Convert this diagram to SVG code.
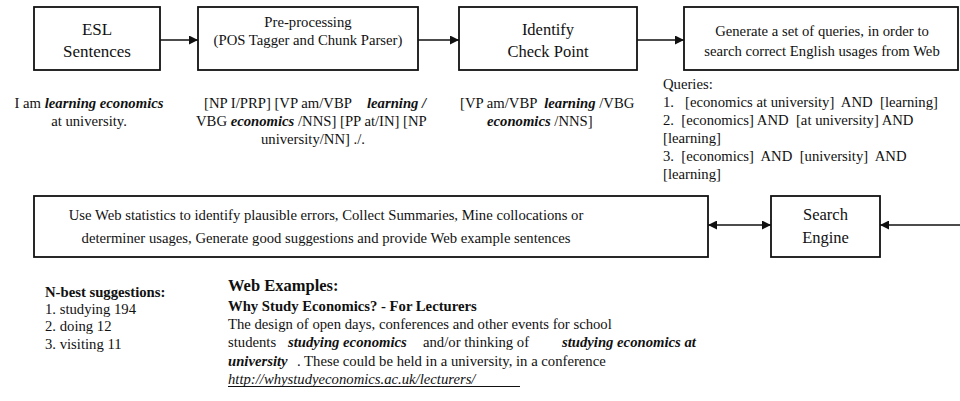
<svg xmlns="http://www.w3.org/2000/svg" width="960" height="401" viewBox="0 0 960 401">
<style>
text{font-family:"Liberation Serif","Times New Roman",serif;fill:#111;font-size:14.7px}
.box{fill:#fff;stroke:#111;stroke-width:1.8}
.conn{stroke:#111;stroke-width:1.6;fill:none}
.bi{font-weight:bold;font-style:italic}
.b{font-weight:bold}
.lbl{font-size:16.5px}
.c{text-anchor:middle}
.pre text{white-space:pre}
</style>
<defs>
<marker id="ah" viewBox="0 0 10 10" refX="10" refY="5" markerWidth="9" markerHeight="9" markerUnits="userSpaceOnUse" orient="auto-start-reverse">
<path d="M0,0 L10,5 L0,10 z" fill="#111"/>
</marker>
</defs>
<rect width="960" height="401" fill="#fff"/>
<g id="connectors">
<line class="conn" x1="160" y1="40" x2="198" y2="40" marker-end="url(#ah)"/>
<line class="conn" x1="418" y1="40" x2="459" y2="40" marker-end="url(#ah)"/>
<line class="conn" x1="637" y1="40" x2="684" y2="40" marker-end="url(#ah)"/>
<line class="conn" x1="708" y1="225" x2="771" y2="225" marker-start="url(#ah)" marker-end="url(#ah)"/>
<line class="conn" x1="960" y1="225" x2="880" y2="225" marker-end="url(#ah)"/>
</g>
<g id="esl">
<rect class="box" x="34" y="7" width="126" height="63"/>
<text class="c" x="97" y="35" style="font-size:17px">ESL</text>
<text class="c" x="97" y="57" style="font-size:17px">Sentences</text>
</g>
<g id="preprocessing">
<rect class="box" x="198" y="7" width="220" height="63"/>
<text class="c" x="308" y="27">Pre-processing</text>
<text class="c" x="308" y="45">(POS Tagger and Chunk Parser)</text>
</g>
<g id="checkpoint">
<rect class="box" x="459" y="7" width="178" height="63"/>
<text class="c lbl" x="548" y="35">Identify</text>
<text class="c lbl" x="548" y="57">Check Point</text>
</g>
<g id="queries">
<rect class="box" x="684" y="7" width="274" height="63"/>
<text class="c" x="822" y="36">Generate a set of queries, in order to</text>
<text class="c" x="822" y="56">search correct English usages from Web</text>
</g>
<g id="analysis">
<rect class="box" x="34" y="196" width="674" height="61"/>
<text class="c" x="326" y="220">Use Web statistics to identify plausible errors, Collect Summaries, Mine collocations or</text>
<text class="c" x="326" y="243">determiner usages, Generate good suggestions and provide Web example sentences</text>
</g>
<g id="search-engine">
<rect class="box" x="771" y="196" width="109" height="61"/>
<text class="c lbl" x="825.5" y="220">Search</text>
<text class="c lbl" x="825.5" y="243">Engine</text>
</g>
<g id="sentence-text">
<text class="c" x="89" y="108">I am <tspan class="bi">learning economics</tspan></text>
<text class="c" x="89" y="126">at university.</text>
</g>
<g id="parse-text" class="pre">
<text x="204" y="108">[NP I/PRP] [VP am/VBP<tspan class="bi" x="367">learning /</tspan></text>
<text x="196" y="126">VBG <tspan class="bi">economics</tspan> /NNS] [PP at/IN] [NP</text>
<text class="c" x="313" y="144">university/NN] ./.</text>
</g>
<g id="checkpoint-text" class="pre">
<text x="460" y="108">[VP am/VBP  <tspan class="bi">learning</tspan> /VBG</text>
<text x="487" y="126"><tspan class="bi">economics</tspan> /NNS]</text>
</g>
<g id="query-list" class="pre">
<text x="663" y="89">Queries:</text>
<text x="663" y="107">1.   [economics at university]  AND  [learning]</text>
<text x="663" y="125">2.  [economics] AND  [at university] AND</text>
<text x="663" y="143">[learning]</text>
<text x="663" y="161">3.  [economics]  AND  [university]  AND</text>
<text x="663" y="179">[learning]</text>
</g>
<g id="suggestions">
<text class="b" x="45" y="297">N-best suggestions:</text>
<text x="45" y="314">1. studying 194</text>
<text x="45" y="331">2. doing 12</text>
<text x="45" y="349">3. visiting 11</text>
</g>
<g id="web-examples">
<text class="b" x="228" y="291" style="font-size:16.5px">Web Examples:</text>
<text class="b" x="228" y="311">Why Study Economics? - For Lecturers</text>
<text x="228" y="329">The design of open days, conferences and other events for school</text>
<text x="228" y="347">students <tspan class="bi" x="288">studying economics</tspan><tspan x="423">and/or thinking of</tspan><tspan class="bi" x="562">studying economics at</tspan></text>
<text x="228" y="366"><tspan class="bi">university</tspan><tspan x="297">. These could be held in a university, in a conference</tspan></text>
<text x="228" y="384" style="font-style:italic">http://whystudyeconomics.ac.uk/lecturers/</text>
<line x1="228" y1="386.5" x2="520" y2="386.5" stroke="#111" stroke-width="1"/>
</g>
</svg>
